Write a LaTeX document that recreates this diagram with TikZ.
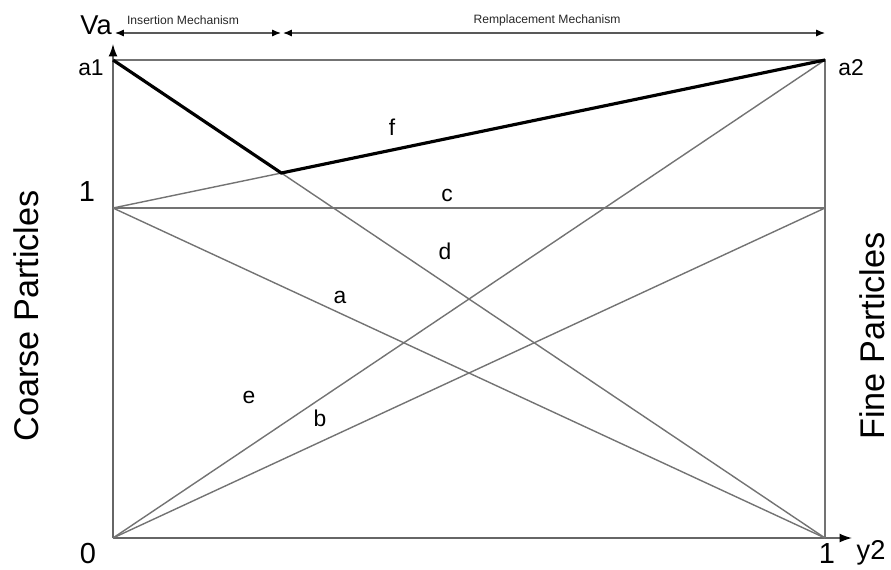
\documentclass[tikz,border=0pt]{standalone}
\usepackage{fontspec}
\setmainfont{Liberation Sans}
\usetikzlibrary{arrows.meta}

\begin{document}
\begin{tikzpicture}[x=0.02cm,y=-0.02cm,
    thin line/.style={draw=black!55,line width=0.8pt},
    thick line/.style={draw=black,line width=1.8pt},
    axis/.style={draw=black!60,line width=0.8pt,-{Latex[length=7pt,width=5pt,black]}},
    span/.style={draw=black!65,line width=0.7pt,
      {Latex[length=5pt,width=4pt,black]}-{Latex[length=5pt,width=4pt,black]}},
    lbl/.style={inner sep=0pt,font=\fontsize{13pt}{15pt}\selectfont},
    tick/.style={inner sep=0pt,font=\fontsize{16.5pt}{18pt}\selectfont},
    side/.style={inner sep=0pt,rotate=90,font=\fontsize{19.5pt}{22pt}\selectfont},
    small/.style={inner sep=0pt,text=black!85,font=\fontsize{6.9pt}{8pt}\selectfont}]
  \useasboundingbox (0,0) rectangle (891,569);

  % corners of the box
  \coordinate (O) at (113,538);
  \coordinate (X1) at (825,538);
  \coordinate (A1) at (113,60);
  \coordinate (A2) at (825,60);
  \coordinate (L1) at (113,208);
  \coordinate (R1) at (825,208);
  \coordinate (P) at (intersection of A1--X1 and L1--A2);
  \coordinate (Ytip) at (113,44);
  \coordinate (Xtip) at (852,538);
  \coordinate (S0) at (115,33);
  \coordinate (S1a) at (281,33);
  \coordinate (S1b) at (283,33);
  \coordinate (S2) at (825,33);

  % axes and frame
  \draw[axis] (O) -- (Ytip);
  \draw[axis] (O) -- (Xtip);
  \draw[thin line] (A1) -- (A2) -- (X1);

  % mixing lines
  \draw[thin line] (L1) -- (R1);
  \draw[thin line] (L1) -- (X1);
  \draw[thin line] (A1) -- (X1);
  \draw[thin line] (L1) -- (A2);
  \draw[thin line] (O) -- (A2);
  \draw[thin line] (O) -- (R1);
  \draw[thick line] (A1) -- (P) -- (A2);

  % mechanisms
  \draw[span] (S0) -- (S1a);
  \draw[span] (S1b) -- (S2);
  \node[small] (ins) at (183,20) {Insertion Mechanism};
  \node[small] (rem) at (547,20) {Remplacement Mechanism};

  % axis labels
  \node[tick,font=\fontsize{15.5pt}{18pt}\selectfont] (va) at (96,25) {Va};
  \node[lbl] (a1) at (91,68) {a1};
  \node[lbl] (a2) at (851,68) {a2};
  \node[tick] (one) at (87,192) {1};
  \node[tick] (zero) at (88,554) {0};
  \node[tick] (onex) at (827,554) {1};
  \node[tick,font=\fontsize{15.5pt}{18pt}\selectfont] (y2) at (871,553) {y2};
  \node[side] (coarse) at (26,316) {Coarse Particles};
  \node[side] (fine) at (872,336) {Fine Particles};

  % line labels
  \node[lbl] (f) at (392,127) {f};
  \node[lbl] (c) at (447,195) {c};
  \node[lbl] (d) at (445,251) {d};
  \node[lbl] (a) at (340,297) {a};
  \node[lbl] (e) at (249,397) {e};
  \node[lbl] (b) at (320,418) {b};
\end{tikzpicture}
\end{document}
